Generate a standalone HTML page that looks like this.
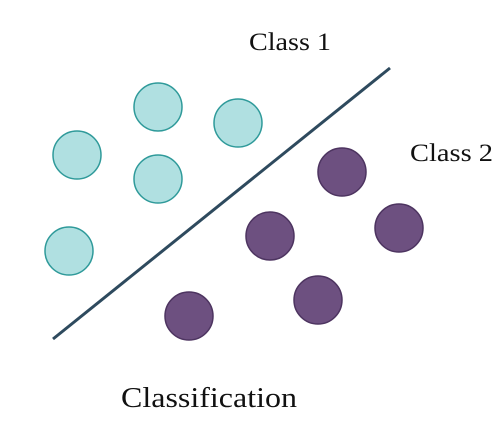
<!DOCTYPE html>
<html><head><style>body{margin:0;background:#fff}</style></head><body>
<svg width="498" height="421" xmlns="http://www.w3.org/2000/svg" font-family="Liberation Serif, serif">
<rect width="498" height="421" fill="#fff"/>
<g fill="#b0e0e1" stroke="#2f9a9a" stroke-width="1.5">
<circle cx="158" cy="107" r="24"/><circle cx="238" cy="123" r="24"/><circle cx="77" cy="155" r="24"/><circle cx="158" cy="179" r="24"/><circle cx="69" cy="251" r="24"/>
</g>
<g fill="#6d5080" stroke="#4d3460" stroke-width="1.5">
<circle cx="342" cy="172" r="24"/><circle cx="270" cy="236" r="24"/><circle cx="399" cy="228" r="24"/><circle cx="318" cy="300" r="24"/><circle cx="189" cy="316" r="24"/>
</g>
<line x1="53" y1="339" x2="390" y2="68" stroke="#2e4a5e" stroke-width="3"/>
<text x="249" y="50" font-size="25" fill="#111" textLength="82" lengthAdjust="spacingAndGlyphs">Class 1</text>
<text x="410" y="161" font-size="25" fill="#111" textLength="83" lengthAdjust="spacingAndGlyphs">Class 2</text>
<text x="121" y="407" font-size="29" fill="#111" textLength="176" lengthAdjust="spacingAndGlyphs">Classification</text>
</svg>
</body></html>
